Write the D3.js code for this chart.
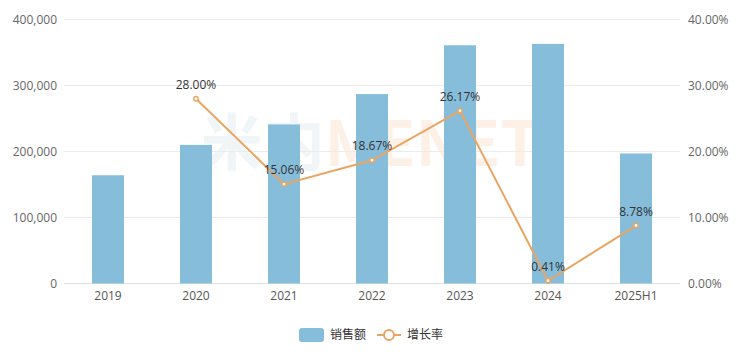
<!DOCTYPE html>
<html>
<head>
<meta charset="utf-8">
<script src="https://cdn.jsdelivr.net/npm/d3@7"></script>
<style>
    body { margin: 0; background: #fff; }
    svg { font-family: "Noto Sans CJK SC", "Noto Sans", sans-serif; }
</style>
</head>
<body>
<svg id="chart" width="740" height="354"></svg>
<script>
// data
const categories = ['2019', '2020', '2021', '2022', '2023', '2024', '2025H1'];
const sales      = [164000, 210000, 241000, 287000, 361000, 363000, 197000];
const growth     = [null, 28.00, 15.06, 18.67, 26.17, 0.41, 8.78];
const leftTicks  = [0, 100000, 200000, 300000, 400000];
const rightTicks = [0, 10, 20, 30, 40];
const seriesNames = ['销售额', '增长率'];

const barColor  = '#86bddb';
const lineColor = '#e9a563';

const margin = {top: 19.5, right: 60, bottom: 70.5, left: 64};
const W = 740, H = 354;
const width  = W - margin.left - margin.right;
const height = H - margin.top - margin.bottom;

const svg = d3.select('#chart');

// faint watermark
const wm = svg.append('text')
    .attr('x', 370).attr('y', 166)
    .attr('text-anchor', 'middle')
    .attr('font-size', 62).attr('font-weight', 'bold')
    .attr('font-family', '"Noto Sans CJK SC", sans-serif');
wm.append('tspan').attr('fill', '#e6eef2').attr('fill-opacity', 0.6).text('米内');
wm.append('tspan').attr('fill', '#fbe6d6').attr('fill-opacity', 0.6).text('MENET');

const base = svg.append('g').attr('transform', `translate(${margin.left},${margin.top})`);

const x = d3.scaleBand().domain(categories).range([0, width]).paddingInner(0.636).paddingOuter(0.318);
const y = d3.scaleLinear().domain([0, 400000]).range([height, 0]);
const y2 = d3.scaleLinear().domain([0, 40]).range([height, 0]);

// grid lines
base.selectAll('.grid')
    .data(leftTicks)
    .enter()
    .append('line')
    .attr('class', 'grid')
    .attr('x1', 0).attr('x2', width)
    .attr('y1', d => y(d)).attr('y2', d => y(d))
    .attr('stroke', d => d === 0 ? '#e0e0e0' : '#ececec')
    .attr('stroke-width', 1);

// left axis
base.append('g')
    .call(d3.axisLeft(y).tickValues(leftTicks).tickFormat(d3.format(',')).tickSize(0).tickPadding(7))
    .call(g => g.select('.domain').remove())
    .selectAll('text').attr('fill', '#666').attr('font-size', 12)
    .attr('font-family', '"Open Sans", "Noto Sans", sans-serif');

// right axis
base.append('g')
    .attr('transform', `translate(${width},0)`)
    .call(d3.axisRight(y2).tickValues(rightTicks).tickFormat(d => d.toFixed(2) + '%').tickSize(0).tickPadding(8))
    .call(g => g.select('.domain').remove())
    .selectAll('text').attr('fill', '#666').attr('font-size', 12)
    .attr('font-family', '"Open Sans", "Noto Sans", sans-serif');

// x axis
base.append('g')
    .attr('transform', `translate(0,${height})`)
    .call(d3.axisBottom(x).tickSize(0).tickPadding(8))
    .call(g => g.select('.domain').remove())
    .selectAll('text').attr('fill', '#555').attr('font-size', 12)
    .attr('font-family', '"Open Sans", "Noto Sans", sans-serif');

// bars
base.selectAll('.bar')
    .data(sales)
    .enter()
    .append('rect')
    .attr('class', 'bar')
    .attr('x', (d, i) => x(categories[i]))
    .attr('y', d => y(d))
    .attr('width', x.bandwidth())
    .attr('height', d => height - y(d))
    .attr('fill', barColor);

// growth line
const pts = growth.map((v, i) => ({c: categories[i], v})).filter(d => d.v !== null);
const cx = d => x(d.c) + x.bandwidth() / 2;

base.append('path')
    .datum(pts)
    .attr('fill', 'none')
    .attr('stroke', lineColor)
    .attr('stroke-width', 2)
    .attr('d', d3.line().x(cx).y(d => y2(d.v)));

base.selectAll('.pt')
    .data(pts)
    .enter()
    .append('circle')
    .attr('cx', cx)
    .attr('cy', d => y2(d.v))
    .attr('r', 2.2)
    .attr('fill', '#fff')
    .attr('stroke', lineColor)
    .attr('stroke-width', 1.5);

base.selectAll('.lbl')
    .data(pts)
    .enter()
    .append('text')
    .attr('x', cx)
    .attr('y', d => y2(d.v) - 10)
    .attr('text-anchor', 'middle')
    .attr('fill', '#333')
    .attr('font-size', 12)
    .attr('font-family', '"Open Sans", "Noto Sans", sans-serif')
    .text(d => d.v.toFixed(2) + '%');

// legend
const lg = svg.append('g').attr('transform', 'translate(0,335)');
lg.append('rect')
    .attr('x', 299).attr('y', -7).attr('width', 25).attr('height', 14).attr('rx', 3)
    .attr('fill', barColor);
lg.append('text')
    .attr('x', 330).attr('y', 0).attr('dy', '0.35em')
    .attr('font-size', 12).attr('fill', '#333')
    .text(seriesNames[0]);
lg.append('line')
    .attr('x1', 377).attr('x2', 401).attr('y1', 0).attr('y2', 0)
    .attr('stroke', lineColor).attr('stroke-width', 2);
lg.append('circle')
    .attr('cx', 389).attr('cy', 0).attr('r', 5)
    .attr('fill', '#fff').attr('stroke', lineColor).attr('stroke-width', 2);
lg.append('text')
    .attr('x', 407).attr('y', 0).attr('dy', '0.35em')
    .attr('font-size', 12).attr('fill', '#333')
    .text(seriesNames[1]);
</script>
</body>
</html>
